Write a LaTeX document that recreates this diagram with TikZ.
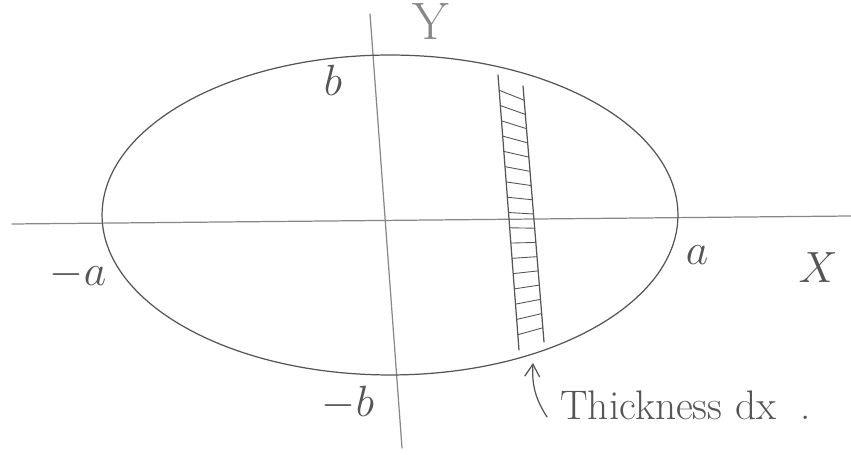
\documentclass[tikz,border=0pt]{standalone}
\usepackage{amsmath}
\usepackage{xcolor}
\usepackage{tikz}
\usetikzlibrary{arrows.meta, positioning, calc}
\definecolor{cPencil}{RGB}{85,85,85}
\definecolor{cLight}{RGB}{135,135,135}

\begin{document}
\begin{tikzpicture}[x=0.02cm, y=-0.02cm, pencil/.style={line width=0.7pt, cPencil, line cap=round},
					axis/.style={line width=0.7pt, cLight, line cap=round},
					lbl/.style={font=\fontsize{30}{32}\selectfont, text=cPencil, inner sep=0pt}]
					\useasboundingbox (0,0) rectangle (851,455);
					% axes
					\coordinate (xl) at (12,224); \coordinate (xr) at (851,216);
					\coordinate (yt) at (370,14); \coordinate (yb) at (402,448);
					\draw[axis] (xl) -- (xr); \draw[axis] (yt) -- (yb);
					% ellipse
					\draw[pencil] (390,215) ellipse [x radius=5.76cm, y radius=3.2cm];
					% strip
					\coordinate (lt) at (498,75); \coordinate (lb) at (519,350);
					\coordinate (rt) at (523,86); \coordinate (rb) at (544,342);
					\draw[pencil] (lt) -- (lb); \draw[pencil] (rt) -- (rb);
					\foreach \i in {1,...,17} \draw[pencil, line width=0.5pt] ($(lt)!\i/18!(lb)$) -- ($(rt)!\i/18!(rb)$);
					% labels
					\node[lbl] (lblb) at (333,80) {$b$}; \node[lbl] (lblnb) at (348,403) {$-b$};
					\node[lbl] (lblna) at (78,275) {$-a$}; \node[lbl] (lbla) at (697,255) {$a$};
					\node[lbl, font=\fontsize{37}{40}\selectfont] (lblx) at (818,268) {$X$};
					\node[lbl, text=cLight, font=\fontsize{30}{32}\selectfont, anchor=base] (lbly) at (431,40) {Y};
					\node[lbl, font=\fontsize{23.5}{25}\selectfont, anchor=west] (thick) at (560,405) {Thickness dx\hspace{0.6em}.};
					% arrow
					\coordinate (tail) at (547,417); \coordinate (foot) at (533,363);
					\draw[pencil, -{Straight Barb[length=2.5mm, width=3mm]}] (tail) to[bend left=18] (foot);
				\end{tikzpicture}
\end{document}
